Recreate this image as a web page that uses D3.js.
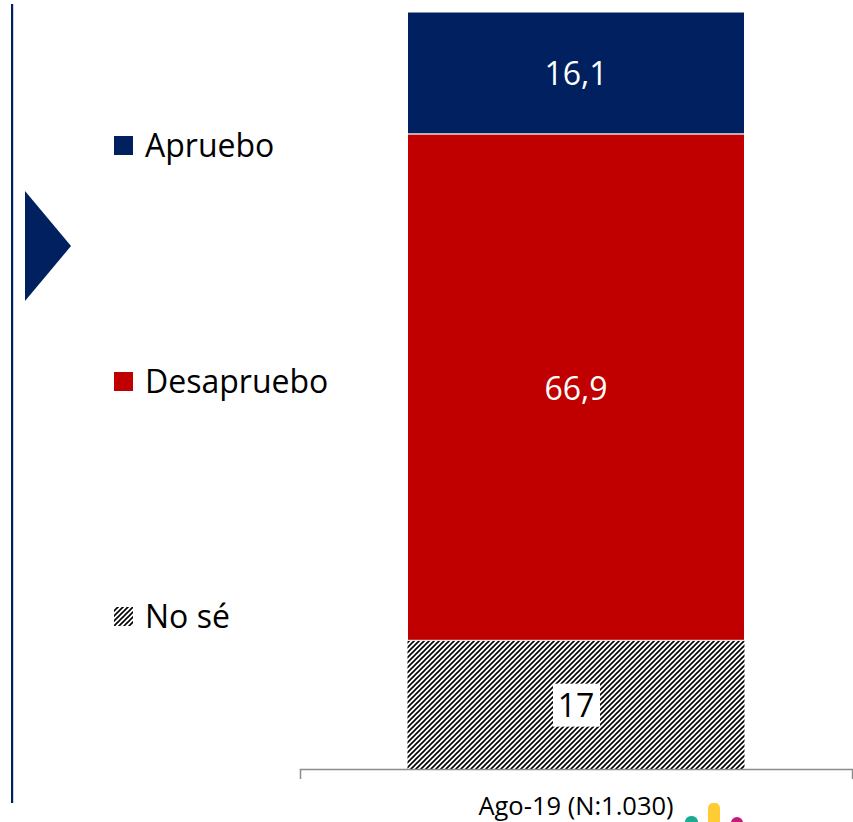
<!DOCTYPE html>
<html>
<head>
<meta charset="utf-8">
<script src="https://cdn.jsdelivr.net/npm/d3@7"></script>
<style>
  html, body { margin: 0; padding: 0; background: #fff; }
  svg { display: block; font-family: "Open Sans", "Noto Sans", sans-serif; }
</style>
</head>
<body>
<svg id="chart" width="853" height="822"></svg>
<script>
// ---- data ----
const categories = ["Ago-19 (N:1.030)"];
const seriesNames = ["Apruebo", "Desapruebo", "No sé"];
const apruebo = [16.1];
const desapruebo = [66.9];
const noSe = [17];
const seriesColors = ["#002060", "#C00000", "url(#hatch)"];
const labelColors = ["#ffffff", "#ffffff", "#000000"];

const svg = d3.select("#chart");

// hatch pattern
const defs = svg.append("defs");
const pat = defs.append("pattern")
  .attr("id", "hatch").attr("patternUnits", "userSpaceOnUse")
  .attr("width", 5).attr("height", 5);
pat.append("rect").attr("width", 5).attr("height", 5).attr("fill", "#fff");
pat.append("path").attr("d", "M-1,1 l2,-2 M0,5 l5,-5 M4,6 l2,-2")
  .attr("stroke", "#000").attr("stroke-width", 1.6);

// scales
const x = d3.scaleBand().domain(categories).range([300, 852])
  .paddingInner(0).paddingOuter(0.319);
const y = d3.scaleLinear().domain([0, 100]).range([769, 12]);

// stack
const rows = categories.map((c, i) => ({
  cat: c, "Apruebo": apruebo[i], "Desapruebo": desapruebo[i], "No sé": noSe[i]
}));
const stack = d3.stack().keys(seriesNames.slice().reverse());
const layers = stack(rows);

const fmt = v => d3.format(".1~f")(v).replace(".", ",");

layers.forEach(layer => {
  const k = seriesNames.indexOf(layer.key);
  svg.append("g").selectAll("rect").data(layer).join("rect")
    .attr("x", d => x(d.data.cat))
    .attr("width", x.bandwidth())
    .attr("y", d => y(d[1]))
    .attr("height", d => y(d[0]) - y(d[1]))
    .attr("fill", seriesColors[k])
    .attr("stroke", "#fff").attr("stroke-width", k === 2 ? 0 : 1);
});

// value labels
layers.forEach(layer => {
  const k = seriesNames.indexOf(layer.key);
  layer.forEach(d => {
    const cx = x(d.data.cat) + x.bandwidth() / 2;
    const cy = (y(d[0]) + y(d[1])) / 2;
    const txt = fmt(d[1] - d[0]);
    if (k === 2) {
      svg.append("rect").attr("x", cx - 23).attr("y", cy - 21)
        .attr("width", 47).attr("height", 43).attr("fill", "#fff");
    }
    svg.append("text").attr("x", cx).attr("y", cy)
      .attr("text-anchor", "middle").attr("dominant-baseline", "central")
      .attr("font-size", 32).attr("fill", labelColors[k]).text(txt);
  });
});

// axis
const axis = svg.append("g").attr("transform", "translate(0,769)")
  .call(d3.axisBottom(x).tickSizeInner(0).tickSizeOuter(10).tickPadding(28));
axis.select(".domain").attr("stroke", "#8c8c8c").attr("stroke-width", 1.5);
axis.selectAll(".tick text").attr("font-size", 25.5).attr("fill", "#000")
  .attr("font-family", "'Open Sans', sans-serif");

// legend
const legY = [145, 381, 616];
seriesNames.forEach((n, i) => {
  svg.append("rect").attr("x", 114).attr("y", legY[i] - 9)
    .attr("width", 19).attr("height", 19).attr("fill", seriesColors[i]);
  svg.append("text").attr("x", 145).attr("y", legY[i] + 12)
    .attr("font-size", 32).attr("fill", "#000").text(n);
});

// decoration: left rule and triangle
svg.append("rect").attr("x", 11).attr("y", 4).attr("width", 2.2).attr("height", 799).attr("fill", "#002060");
svg.append("path").attr("d", "M25,191 L71,246 L25,301 Z").attr("fill", "#002060");

// logo bits
svg.append("rect").attr("x", 685).attr("y", 816).attr("width", 13).attr("height", 14).attr("rx", 6).attr("fill", "#1BAA92");
svg.append("rect").attr("x", 708).attr("y", 803).attr("width", 12).attr("height", 25).attr("rx", 5).attr("fill", "#FFCC33");
svg.append("rect").attr("x", 731).attr("y", 817).attr("width", 12).attr("height", 12).attr("rx", 6).attr("fill", "#C8187A");
</script>
</body>
</html>
